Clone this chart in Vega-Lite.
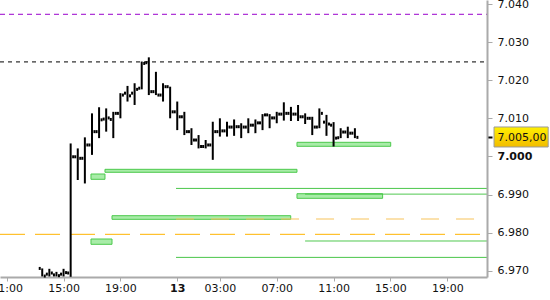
{
  "$schema": "https://vega.github.io/schema/vega-lite/v6.json",
  "width": 487,
  "height": 277,
  "autosize": {"type": "none"},
  "padding": {"left": 0, "top": 0, "right": 63, "bottom": 23},
  "background": "white",
  "config": {"view": {"stroke": null}, "font": "DejaVu Sans", "axis": {"labelOverlap": false}},
  "datasets": {
    "bars": [
      {"bar": 5, "open": 6.9706, "high": 6.9706, "low": 6.9685, "close": 6.9686},
      {"bar": 6, "open": 6.9691, "high": 6.9705, "low": 6.9685, "close": 6.9694},
      {"bar": 7, "open": 6.9689, "high": 6.9697, "low": 6.9685, "close": 6.9687},
      {"bar": 8, "open": 6.9691, "high": 6.9705, "low": 6.9685, "close": 6.9695},
      {"bar": 9, "open": 6.9694, "high": 7.0034, "low": 6.9684, "close": 6.9999},
      {"bar": 10, "open": 6.9999, "high": 7.0021, "low": 6.9938, "close": 6.9995},
      {"bar": 11, "open": 6.9995, "high": 7.0050, "low": 6.9929, "close": 7.0030},
      {"bar": 12, "open": 7.0030, "high": 7.0113, "low": 7.0004, "close": 7.0065},
      {"bar": 13, "open": 7.0065, "high": 7.0129, "low": 7.0048, "close": 7.0096},
      {"bar": 14, "open": 7.0098, "high": 7.0126, "low": 7.0065, "close": 7.0101},
      {"bar": 15, "open": 7.0097, "high": 7.0117, "low": 7.0048, "close": 7.0113},
      {"bar": 16, "open": 7.0113, "high": 7.0166, "low": 7.0100, "close": 7.0161},
      {"bar": 17, "open": 7.0166, "high": 7.0185, "low": 7.0144, "close": 7.0159},
      {"bar": 18, "open": 7.0166, "high": 7.0192, "low": 7.0135, "close": 7.0176},
      {"bar": 19, "open": 7.0179, "high": 7.0249, "low": 7.0176, "close": 7.0244},
      {"bar": 20, "open": 7.0246, "high": 7.0260, "low": 7.0161, "close": 7.0170},
      {"bar": 21, "open": 7.0170, "high": 7.0222, "low": 7.0161, "close": 7.0161},
      {"bar": 22, "open": 7.0161, "high": 7.0192, "low": 7.0144, "close": 7.0183},
      {"bar": 23, "open": 7.0183, "high": 7.0183, "low": 7.0100, "close": 7.0117},
      {"bar": 24, "open": 7.0117, "high": 7.0144, "low": 7.0069, "close": 7.0104},
      {"bar": 25, "open": 7.0104, "high": 7.0117, "low": 7.0056, "close": 7.0065},
      {"bar": 26, "open": 7.0065, "high": 7.0074, "low": 7.0030, "close": 7.0043},
      {"bar": 27, "open": 7.0043, "high": 7.0056, "low": 7.0021, "close": 7.0026},
      {"bar": 28, "open": 7.0026, "high": 7.0043, "low": 7.0021, "close": 7.0030},
      {"bar": 29, "open": 7.0030, "high": 7.0091, "low": 6.9991, "close": 7.0065},
      {"bar": 30, "open": 7.0065, "high": 7.0100, "low": 7.0052, "close": 7.0067},
      {"bar": 31, "open": 7.0067, "high": 7.0091, "low": 7.0052, "close": 7.0077},
      {"bar": 32, "open": 7.0077, "high": 7.0097, "low": 7.0054, "close": 7.0078},
      {"bar": 33, "open": 7.0078, "high": 7.0087, "low": 7.0048, "close": 7.0077},
      {"bar": 34, "open": 7.0077, "high": 7.0100, "low": 7.0061, "close": 7.0082},
      {"bar": 35, "open": 7.0082, "high": 7.0097, "low": 7.0061, "close": 7.0088},
      {"bar": 36, "open": 7.0088, "high": 7.0111, "low": 7.0069, "close": 7.0109},
      {"bar": 37, "open": 7.0109, "high": 7.0111, "low": 7.0074, "close": 7.0101},
      {"bar": 38, "open": 7.0101, "high": 7.0117, "low": 7.0087, "close": 7.0111},
      {"bar": 39, "open": 7.0111, "high": 7.0142, "low": 7.0094, "close": 7.0113},
      {"bar": 40, "open": 7.0113, "high": 7.0130, "low": 7.0093, "close": 7.0111},
      {"bar": 41, "open": 7.0111, "high": 7.0135, "low": 7.0093, "close": 7.0104},
      {"bar": 42, "open": 7.0104, "high": 7.0113, "low": 7.0085, "close": 7.0100},
      {"bar": 43, "open": 7.0100, "high": 7.0104, "low": 7.0056, "close": 7.0077},
      {"bar": 44, "open": 7.0077, "high": 7.0126, "low": 7.0074, "close": 7.0113},
      {"bar": 45, "open": 7.0090, "high": 7.0109, "low": 7.0054, "close": 7.0085},
      {"bar": 46, "open": 7.0082, "high": 7.0090, "low": 7.0026, "close": 7.0048},
      {"bar": 47, "open": 7.0049, "high": 7.0074, "low": 7.0048, "close": 7.0064},
      {"bar": 48, "open": 7.0064, "high": 7.0078, "low": 7.0048, "close": 7.0061},
      {"bar": 49, "open": 7.0061, "high": 7.0074, "low": 7.0048, "close": 7.0050}
    ],
    "levels": [
      {"kind": "purple", "price": 7.0373, "start": -0.943, "end": 67.59},
      {"kind": "black", "price": 7.0248, "start": -0.943, "end": 67.59},
      {"kind": "orange", "price": 6.97955, "start": -0.943, "end": 67.59},
      {"kind": "orange2", "price": 6.98357, "start": 23.83, "end": 66.75},
      {"kind": "green", "price": 6.9916, "start": 23.83, "end": 67.59},
      {"kind": "green", "price": 6.9901, "start": 42, "end": 67.59},
      {"kind": "green", "price": 6.9778, "start": 42, "end": 67.59},
      {"kind": "green", "price": 6.9735, "start": 23.83, "end": 67.59}
    ],
    "zones": [
      {"start": 13.83, "end": 40.85, "lo": 6.99583, "hi": 6.99661},
      {"start": 11.86, "end": 13.83, "lo": 6.99399, "hi": 6.99538},
      {"start": 14.82, "end": 39.97, "lo": 6.98349, "hi": 6.98444},
      {"start": 11.86, "end": 14.82, "lo": 6.97693, "hi": 6.97832},
      {"start": 40.85, "end": 52.9, "lo": 6.989, "hi": 6.99021},
      {"start": 40.85, "end": 54.04, "lo": 7.00265, "hi": 7.0037}
    ],
    "last": [{"price": 7.005}]
  },
  "layer": [
    {
      "data": {"name": "zones"},
      "mark": {"type": "rect", "fill": "#a8eca8", "stroke": "#4cc94c", "strokeWidth": 1},
      "encoding": {
        "x": {
          "field": "start", "type": "quantitative", "title": null,
          "scale": {"domain": [-0.943, 67.59], "nice": false, "zero": false},
          "axis": {
            "title": null,
            "values": [0, 8, 16, 24, 30, 38, 46, 54, 62],
            "tickCount": 30,
            "labelExpr": "datum.value === 0 ? '11:00' : datum.value === 8 ? '15:00' : datum.value === 16 ? '19:00' : datum.value === 24 ? '13' : datum.value === 30 ? '03:00' : datum.value === 38 ? '07:00' : datum.value === 46 ? '11:00' : datum.value === 54 ? '15:00' : '19:00'",
            "labelFlush": false,
            "labelOverlap": false,
            "grid": false,
            "domainColor": "#aaaaaa",
            "domainWidth": 2,
            "tickColor": "#aaaaaa",
            "tickSize": 4,
            "tickWidth": 1,
            "labelPadding": 1,
            "labelFontSize": 11,
            "labelFont": "DejaVu Sans",
            "labelColor": "#111111",
            "labelFontWeight": {"condition": {"test": "datum.value === 24", "value": "bold"}, "value": "normal"}
          }
        },
        "x2": {"field": "end"},
        "y": {
          "field": "lo", "type": "quantitative", "title": null,
          "scale": {"domain": [6.96835, 7.04105], "nice": false, "zero": false},
          "axis": {
            "title": null,
            "orient": "right",
            "values": [6.97, 6.98, 6.99, 7, 7.005, 7.01, 7.02, 7.03, 7.04],
            "tickCount": 30,
            "labelExpr": "datum.value === 7.005 ? '7.005,00' : format(datum.value, '.3f')",
            "labelOverlap": false,
            "labelFlush": false,
            "grid": false,
            "zindex": 1,
            "domainColor": "#aaaaaa",
            "domainWidth": 2,
            "tickColor": {"condition": {"test": "datum.value === 7.005", "value": "#000000"}, "value": "#aaaaaa"},
            "tickWidth": {"condition": {"test": "datum.value === 7.005", "value": 2}, "value": 1},
            "tickSize": 5,
            "labelPadding": 5,
            "labelFontSize": 11,
            "labelFont": "DejaVu Sans",
            "labelColor": "#111111",
            "labelFontWeight": {"condition": {"test": "datum.value === 7", "value": "bold"}, "value": "normal"}
          }
        },
        "y2": {"field": "hi"}
      }
    },
    {
      "data": {"name": "levels"},
      "mark": {"type": "rule", "strokeWidth": 1},
      "encoding": {
        "x": {"field": "start", "type": "quantitative", "title": null},
        "x2": {"field": "end"},
        "y": {"field": "price", "type": "quantitative", "title": null},
        "color": {
          "field": "kind", "type": "nominal", "legend": null,
          "scale": {"domain": ["purple", "black", "orange", "orange2", "green"], "range": ["#9a00cc", "#000000", "#ffb300", "#f7c35a", "#44c444"]}
        },
        "strokeDash": {
          "field": "kind", "type": "nominal", "legend": null,
          "scale": {"domain": ["purple", "black", "orange", "orange2", "green"], "range": [[5, 4], [4, 4], [25, 10], [18, 17], [1, 0]]}
        }
      }
    },
    {
      "data": {"name": "bars"},
      "mark": {"type": "rule", "strokeWidth": 2, "color": "#000000"},
      "encoding": {
        "x": {"field": "bar", "type": "quantitative", "title": null},
        "y": {"field": "low", "type": "quantitative", "title": null},
        "y2": {"field": "high"}
      }
    },
    {
      "data": {"name": "bars"},
      "mark": {"type": "tick", "orient": "vertical", "size": 3, "thickness": 2, "xOffset": -2.5, "color": "#000000", "opacity": 1},
      "encoding": {
        "x": {"field": "bar", "type": "quantitative", "title": null},
        "y": {"field": "open", "type": "quantitative", "title": null}
      }
    },
    {
      "data": {"name": "bars"},
      "mark": {"type": "tick", "orient": "vertical", "size": 3, "thickness": 2, "xOffset": 2.5, "color": "#000000", "opacity": 1},
      "encoding": {
        "x": {"field": "bar", "type": "quantitative", "title": null},
        "y": {"field": "close", "type": "quantitative", "title": null}
      }
    },
    {
      "data": {"name": "last"},
      "mark": {
        "type": "rect",
        "stroke": "#9a9a9a",
        "strokeWidth": 1,
        "fill": {"gradient": "linear", "x1": 0, "y1": 0, "x2": 0, "y2": 1, "stops": [{"offset": 0, "color": "#fff000"}, {"offset": 1, "color": "#f2bc00"}]}
      },
      "encoding": {
        "x": {"datum": 68.58, "type": "quantitative"},
        "x2": {"datum": 76.2},
        "y": {"datum": 7.00772, "type": "quantitative"},
        "y2": {"datum": 7.00247}
      }
    }
  ]
}
